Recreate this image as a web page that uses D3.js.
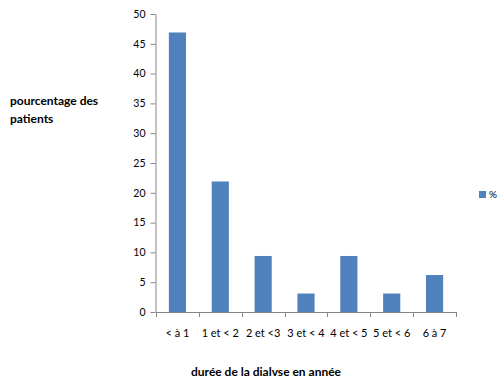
<!DOCTYPE html>
<html>
<head>
<meta charset="utf-8">
<script src="https://cdn.jsdelivr.net/npm/d3@7"></script>
<style>
  body { margin: 0; background: #fff; }
  svg { display: block; }
  text { font-family: Lato, "Open Sans", sans-serif; fill: #000; }
</style>
</head>
<body>
<svg id="chart"></svg>
<script>
// data
const categories = ["< à 1", "1 et < 2", "2 et <3", "3 et < 4", "4 et < 5", "5 et < 6", "6 à 7"];
const values = [46.9, 21.9, 9.4, 3.1, 9.4, 3.1, 6.2];
const yTicks = [0, 5, 10, 15, 20, 25, 30, 35, 40, 45, 50];
const seriesName = "%";

const w = 498, h = 378;
const plot = { left: 156, right: 456, top: 14, bottom: 312 };
const barColor = "#4F81BD";
const axisColor = "#868686";

const svg = d3.select("#chart").attr("width", w).attr("height", h);

const x = d3.scaleBand()
  .domain(categories)
  .range([plot.left, plot.right])
  .paddingInner(0.6)
  .paddingOuter(0.3);

const y = d3.scaleLinear()
  .domain([0, 50])
  .range([plot.bottom, plot.top]);

// bars
svg.append("g").selectAll("rect")
  .data(values)
  .join("rect")
  .attr("x", (d, i) => x(categories[i]))
  .attr("y", d => y(d))
  .attr("width", x.bandwidth())
  .attr("height", d => y(0) - y(d))
  .attr("fill", barColor);

// y axis
const yAxis = svg.append("g")
  .attr("transform", `translate(${plot.left - 0.5},0)`)
  .call(d3.axisLeft(y).tickValues(yTicks).tickSize(5).tickPadding(5).tickSizeOuter(0));
yAxis.select(".domain").attr("stroke", axisColor);
yAxis.selectAll(".tick line").attr("stroke", axisColor);
yAxis.selectAll(".tick text")
  .attr("font-family", "Verdana, 'DejaVu Sans', sans-serif")
  .attr("font-size", 10.5)
  .attr("fill", "#000");

// x axis: ticks between categories, like the spreadsheet style
const step = x.step();
const xEdges = d3.range(categories.length + 1).map(i => plot.left + i * (plot.right - plot.left) / categories.length);
const xAxis = svg.append("g");
xAxis.append("line")
  .attr("x1", plot.left).attr("x2", plot.right)
  .attr("y1", y(0) + 0.5).attr("y2", y(0) + 0.5)
  .attr("stroke", axisColor);
xAxis.selectAll(".xt")
  .data(xEdges)
  .join("line")
  .attr("class", "xt")
  .attr("x1", d => Math.round(d) + 0.5).attr("x2", d => Math.round(d) + 0.5)
  .attr("y1", y(0)).attr("y2", y(0) + 5)
  .attr("stroke", axisColor);
xAxis.selectAll(".xl")
  .data(categories)
  .join("text")
  .attr("class", "xl")
  .attr("x", d => x(d) + x.bandwidth() / 2)
  .attr("y", 337)
  .attr("text-anchor", "middle")
  .attr("font-size", 11)
  .text(d => d);

// axis titles
svg.append("text")
  .attr("x", 266).attr("y", 376)
  .attr("text-anchor", "middle")
  .attr("font-weight", "bold")
  .attr("font-size", 12)
  .text("durée de la dialvse en année");

const yTitle = svg.append("text")
  .attr("x", 10).attr("y", 105)
  .attr("font-weight", "bold")
  .attr("font-size", 12);
yTitle.append("tspan").attr("x", 10).text("pourcentage des");
yTitle.append("tspan").attr("x", 10).attr("dy", 18).text("patients");

// legend
const legend = svg.append("g").attr("transform", "translate(479,191)");
legend.append("rect").attr("width", 7).attr("height", 7).attr("fill", barColor);
legend.append("text")
  .attr("x", 10).attr("y", 7)
  .attr("font-size", 10)
  .text(seriesName);
</script>
</body>
</html>
